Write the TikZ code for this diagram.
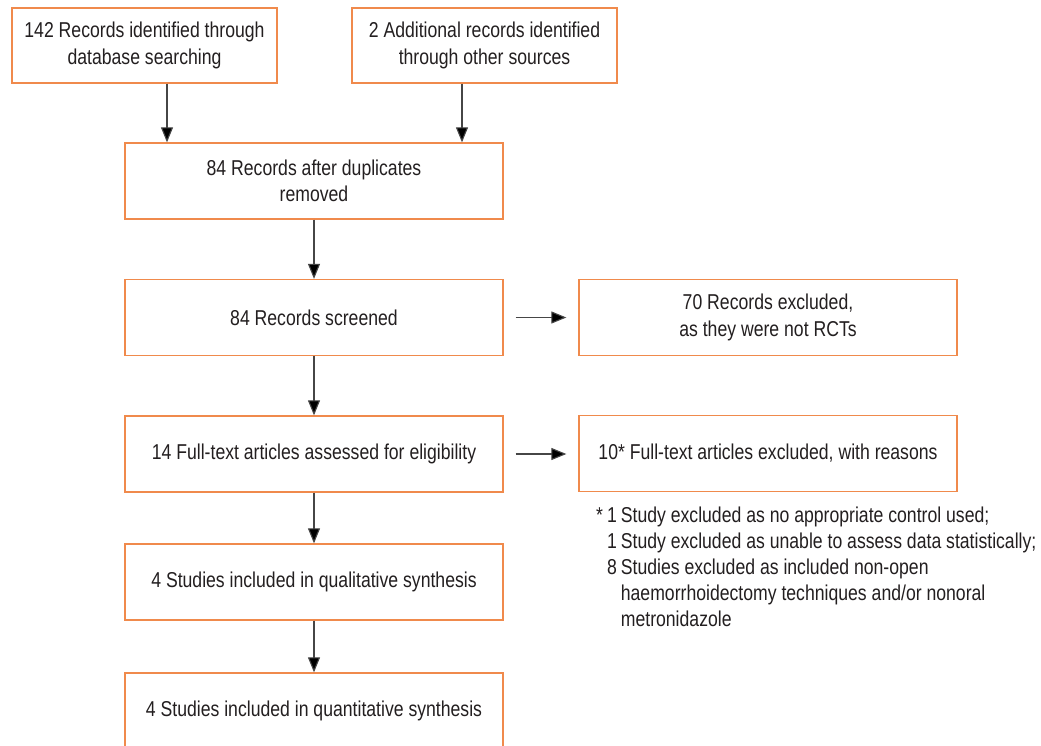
\documentclass[tikz,border=0pt]{standalone}
\usepackage{fontspec}
\setmainfont{Liberation Sans}[FakeStretch=0.82]
\usetikzlibrary{arrows.meta}
\definecolor{boxorange}{RGB}{240,138,76}
\definecolor{txt}{RGB}{35,31,32}
\definecolor{lin}{RGB}{70,70,70}
\tikzset{
  flowbox/.style={draw=boxorange, line width=1.3pt, fill=white, minimum width=378pt, minimum height=76pt, align=center, text=txt, inner sep=0pt, font=\fontsize{21.5}{26.5}\selectfont},
  topbox/.style={flowbox, minimum width=265pt, minimum height=75pt},
  arr/.style={draw=lin, line width=1.1pt, -{Triangle[length=15pt,width=12pt,fill=black]}}
}
\begin{document}
\begin{tikzpicture}[x=1pt,y=-1pt]
\clip (0,0) rectangle (1041,746);
\fill[white] (0,0) rectangle (1041,746);
\node[topbox] (b1) at (144.5,45.5) {142 Records identified through\\database searching};
\node[topbox] (b2) at (484.5,45.5) {2 Additional records identified\\through other sources};
\node[flowbox] (b3) at (314,181) {84 Records after duplicates\\removed};
\node[flowbox] (b4) at (314,317.5) {84 Records screened};
\node[flowbox] (b5) at (314,454) {14 Full-text articles assessed for eligibility};
\node[flowbox] (b6) at (314,582) {4 Studies included in qualitative synthesis};
\node[flowbox] (b7) at (314,711) {4 Studies included in quantitative synthesis};
\node[flowbox] (r1) at (768,317.5) {70 Records excluded,\\as they were not RCTs};
\node[flowbox] (r2) at (768,453.5) {10* Full-text articles excluded, with reasons};
\node[anchor=north west, inner sep=0pt, text=txt, font=\fontsize{21.5}{26}\selectfont] (fn) at (596,504)
{\begin{tabular}{@{}l@{\hspace{4pt}}l@{\hspace{4pt}}l@{}}
* & 1 & Study excluded as no appropriate control used;\\
  & 1 & Study excluded as unable to assess data statistically;\\
  & 8 & Studies excluded as included non-open\\
  &   & haemorrhoidectomy techniques and/or nonoral\\
  &   & metronidazole
\end{tabular}};
\draw[arr] ([xshift=22.5]b1.south) -- ([xshift=22.5]b1.south |- b3.north);
\draw[arr] ([xshift=-22.5]b2.south) -- ([xshift=-22.5]b2.south |- b3.north);
\draw[arr] (b3) -- (b4);
\draw[arr] (b4) -- (b5);
\draw[arr] (b5) -- (b6);
\draw[arr] (b6) -- (b7);
\draw[arr, shorten <=12pt, shorten >=12pt] (b4) -- (r1);
\draw[arr, shorten <=12pt, shorten >=12pt] (b5) -- (b5 -| r2.west);
\end{tikzpicture}
\end{document}
